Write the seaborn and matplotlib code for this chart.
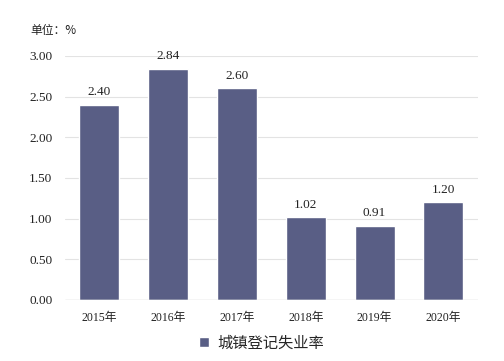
import seaborn as sns
import matplotlib.pyplot as plt
import pandas as pd

years = ['2015年', '2016年', '2017年', '2018年', '2019年', '2020年']
rates = [2.40, 2.84, 2.60, 1.02, 0.91, 1.20]
series_name = '城镇登记失业率'
yticks = [0.0, 0.5, 1.0, 1.5, 2.0, 2.5, 3.0]

df = pd.DataFrame({'year': years, 'rate': rates, 'series': series_name})

sns.set_style('white')
plt.rcParams['font.family'] = ['Liberation Serif', 'Noto Sans CJK SC']

fig = plt.figure(figsize=(5.04, 3.61), dpi=100)
ax = fig.add_axes([0.129, 0.169, 0.819, 0.676])

sns.barplot(data=df, x='year', y='rate', hue='series', palette=['#52588c'],
            width=0.58, ax=ax, zorder=3)

for i, v in enumerate(rates):
    ax.text(i, v + 0.08, f'{v:.2f}', ha='center', va='bottom', fontsize=9.5,
            color='#222222')

ax.set_ylim(0, 3.0)
ax.set_yticks(yticks)
ax.set_yticklabels([f'{t:.2f}' for t in yticks], fontsize=9.5, color='#222222')
ax.tick_params(axis='x', labelsize=8.5, colors='#222222', length=0, pad=9)
ax.tick_params(axis='y', length=0, pad=9)
ax.grid(axis='y', color='#e3e3e3', linewidth=0.8, zorder=0)
ax.set_xlabel('')
ax.set_ylabel('')
for s in ax.spines.values():
    s.set_visible(False)
ax.axhline(0, color='#d9d9d9', linewidth=1.0, zorder=4)

fig.text(0.06, 0.905, '单位：%', fontsize=8.5, family=['Noto Sans CJK SC'],
         color='#222222')

leg = ax.legend(loc='upper center', bbox_to_anchor=(0.475, -0.085), frameon=False,
                handlelength=0.7, handleheight=0.7, handletextpad=0.5,
                prop={'family': 'Noto Sans CJK SC', 'size': 11})

fig.savefig('out.png', dpi=100)
